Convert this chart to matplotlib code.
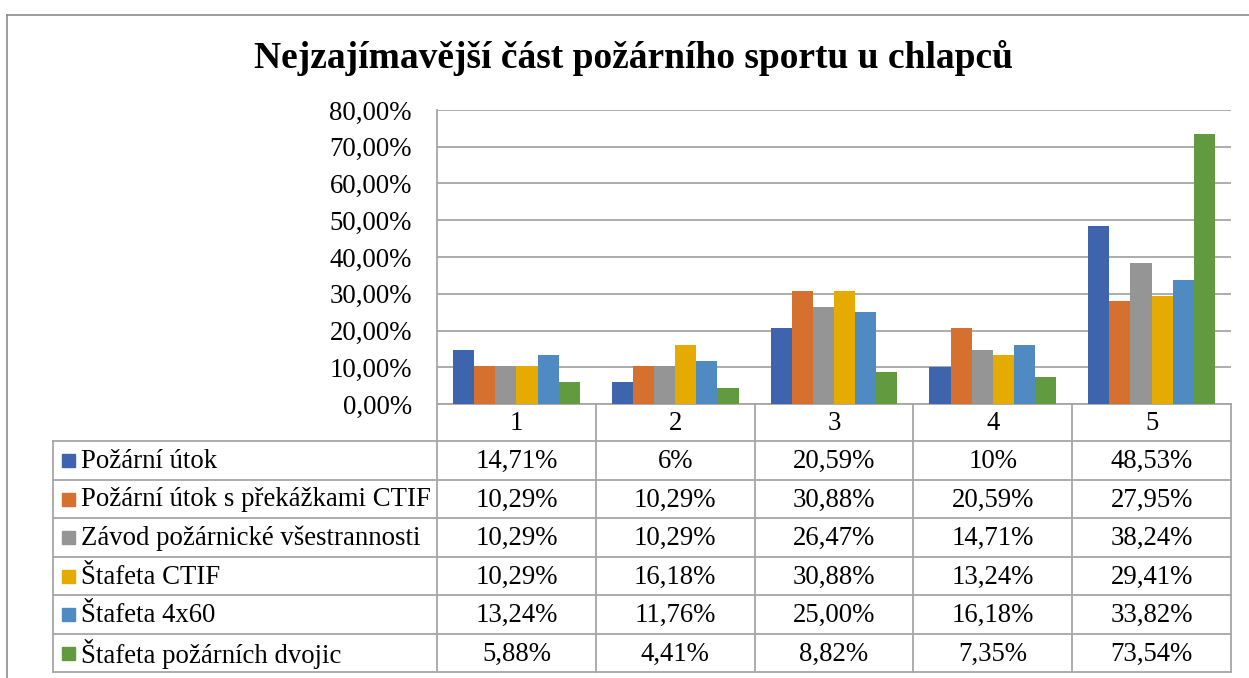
import matplotlib
matplotlib.use("Agg")
import matplotlib.pyplot as plt
import numpy as np

categories = ["1", "2", "3", "4", "5"]
series_names = [
    "Požární útok",
    "Požární útok s překážkami CTIF",
    "Závod požárnické všestrannosti",
    "Štafeta CTIF",
    "Štafeta 4x60",
    "Štafeta požárních dvojic",
]
values = [
    [14.71, 6.00, 20.59, 10.00, 48.53],
    [10.29, 10.29, 30.88, 20.59, 27.95],
    [10.29, 10.29, 26.47, 14.71, 38.24],
    [10.29, 16.18, 30.88, 13.24, 29.41],
    [13.24, 11.76, 25.00, 16.18, 33.82],
    [5.88, 4.41, 8.82, 7.35, 73.54],
]
table_labels = [
    ["14,71%", "6%", "20,59%", "10%", "48,53%"],
    ["10,29%", "10,29%", "30,88%", "20,59%", "27,95%"],
    ["10,29%", "10,29%", "26,47%", "14,71%", "38,24%"],
    ["10,29%", "16,18%", "30,88%", "13,24%", "29,41%"],
    ["13,24%", "11,76%", "25,00%", "16,18%", "33,82%"],
    ["5,88%", "4,41%", "8,82%", "7,35%", "73,54%"],
]
yticks = [0, 10, 20, 30, 40, 50, 60, 70, 80]
title = "Nejzajímavější část požárního sportu u chlapců"

colors = ["#3E64AD", "#D5702E", "#959595", "#E5AB00", "#508AC2", "#619A3F"]

W, H = 1249, 678
plt.rcParams["font.family"] = ["Liberation Serif", "DejaVu Serif"]
FS = 19.3
fig = plt.figure(figsize=(W / 100, H / 100), dpi=100)

def px(x0, y0, x1, y1):
    return [x0 / W, 1 - y1 / H, (x1 - x0) / W, (y1 - y0) / H]

# overlay for borders & table
ov = fig.add_axes([0, 0, 1, 1])
ov.set_xlim(0, W)
ov.set_ylim(H, 0)
ov.axis("off")

# chart border
ov.plot([7.5, W], [14.5, 14.5], color="#8C8C8C", lw=1.2)
ov.plot([7.5, 7.5], [14.5, H], color="#8C8C8C", lw=1.2)

# plot area
PL, PR, PT, PB = 437, 1231, 110, 404
ax = fig.add_axes(px(PL, PT, PR, PB))
n = len(series_names)
x = np.arange(len(categories))
bw = 0.133
for i, (name, vals) in enumerate(zip(series_names, values)):
    ax.bar(x + (i - (n - 1) / 2) * bw, vals, width=bw, color=colors[i], zorder=3)
ax.set_xlim(-0.5, len(categories) - 0.5)
ax.set_ylim(0, 80)
ax.set_yticks(yticks)
ax.set_yticklabels([f"{v:.2f}".replace(".", ",") + "%" for v in yticks], fontsize=FS)
ax.tick_params(axis="y", length=0, pad=18)
ax.set_xticks([])
ax.grid(axis="y", color="#A6A6A6", lw=1.3, zorder=0)
for s in ["top", "right", "bottom"]:
    ax.spines[s].set_visible(False)
ax.spines["left"].set_color("#A6A6A6")
ax.spines["left"].set_linewidth(1.3)
ax.patch.set_alpha(0)

fig.text(633 / W, 1 - 58 / H, title, ha="center", va="center",
         fontsize=27, fontweight="bold")

# data table
TL = 53
col_edges = np.linspace(PL, PR, len(categories) + 1)
row_edges = [404, 441, 480, 518, 557, 595, 634, 672]
lc = "#A6A6A6"
ov.plot([PL, PR], [row_edges[0], row_edges[0]], color=lc, lw=1.3)
for yv in row_edges[1:]:
    ov.plot([TL, PR], [yv, yv], color=lc, lw=1.3)
ov.plot([TL, TL], [row_edges[1], row_edges[-1]], color=lc, lw=1.3)
for xv in col_edges:
    ov.plot([xv, xv], [row_edges[0], row_edges[-1]], color=lc, lw=1.3)

for j, c in enumerate(categories):
    ov.text((col_edges[j] + col_edges[j + 1]) / 2, (row_edges[0] + row_edges[1]) / 2 + 1,
            c, ha="center", va="center", fontsize=FS)
for i, name in enumerate(series_names):
    yc = (row_edges[i + 1] + row_edges[i + 2]) / 2
    ov.add_patch(plt.Rectangle((62, yc - 6.5), 13, 13, color=colors[i]))
    ov.text(81, yc + 1, name, ha="left", va="center", fontsize=FS)
    for j in range(len(categories)):
        ov.text((col_edges[j] + col_edges[j + 1]) / 2, yc + 1, table_labels[i][j],
                ha="center", va="center", fontsize=FS)

fig.savefig("out.png", dpi=100)
